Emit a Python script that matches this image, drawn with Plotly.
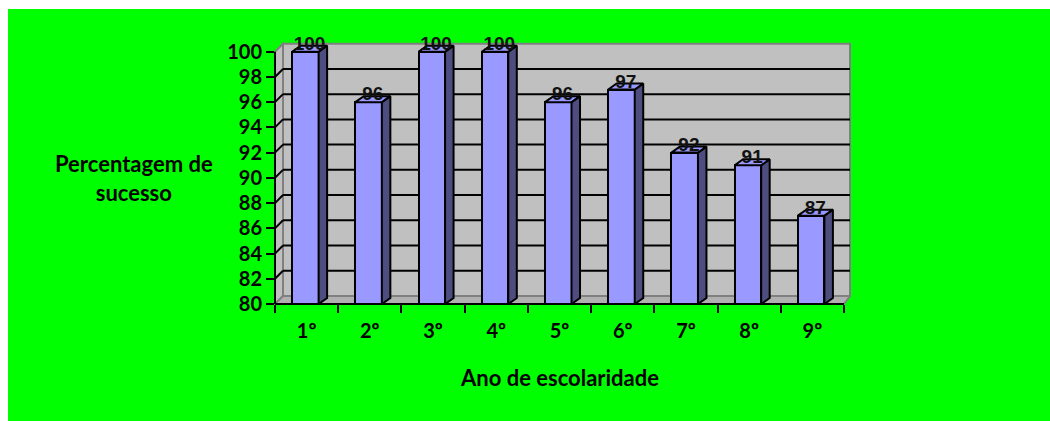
import plotly.graph_objects as go

# ---------------- data ----------------
categories = ["1º", "2º", "3º", "4º", "5º", "6º", "7º", "8º", "9º"]
values = [100, 96, 100, 100, 96, 97, 92, 91, 87]
y_ticks = [80, 82, 84, 86, 88, 90, 92, 94, 96, 98, 100]
y_title = "Percentagem de<br>sucesso"
x_title = "Ano de escolaridade"

# ---------------- geometry / style ----------------
FIG_W, FIG_H = 1050, 421
L, R, T, B = 275, 199, 42, 117
W = FIG_W - L - R
H = FIG_H - T - B
YMIN, YMAX = 80, 100
PX = 569 / 9.0          # pixels per category
PY = 252.3 / 20.0       # pixels per percentage unit
x_lo = -0.5
x_hi = x_lo + W / PX
y_hi = YMIN + H / PY
n = len(categories)
x_end = n - 0.5

WDXL = 8 / PX           # wall depth (left)
WDXR = 6 / PX           # wall depth (right)
WDY = 8 / PY
BAR_W = 0.42
BAR_OFF = -0.23
BDX = 8.5 / PX
BDY = 6 / PY

GREEN = "#00FF00"
WALL = "#C0C0C0"
WALL_EDGE = "#808080"
FLOOR = "#B0B0B0"
FRONT = "#9999FF"
SIDE = "#4D4D80"

def pxx(p):
    return (p - L) / W

def pxy(p):
    return (FIG_H - B - p) / H

xs = list(range(n))

fig = go.Figure()

# front faces
fig.add_trace(go.Bar(
    x=xs, y=values, width=BAR_W, offset=BAR_OFF,
    marker=dict(color=FRONT, line=dict(color="black", width=2)),
    hoverinfo="skip", showlegend=False,
))

# side faces and top faces (derived from the values)
side_x, side_y, top_x, top_y = [], [], [], []
for i, v in zip(xs, values):
    xl = i + BAR_OFF
    xr = xl + BAR_W
    side_x += [xr, xr + BDX, xr + BDX, xr, xr, None]
    side_y += [YMIN, YMIN + BDY, v + BDY, v, YMIN, None]
    top_x += [xl, xl + BDX, xr + BDX, xr, xl, None]
    top_y += [v, v + BDY, v + BDY, v, v, None]

fig.add_trace(go.Scatter(
    x=side_x, y=side_y, mode="lines", fill="toself", fillcolor=SIDE,
    line=dict(color="black", width=2), hoverinfo="skip", showlegend=False,
))
fig.add_trace(go.Scatter(
    x=top_x, y=top_y, mode="lines", fill="toself", fillcolor=FRONT,
    line=dict(color="black", width=2), hoverinfo="skip", showlegend=False,
))

# value labels
fig.add_trace(go.Scatter(
    x=[i + BAR_OFF + BAR_W / 2 + BDX / 2 for i in xs],
    y=[v + BDY / 2 + 3.5 / PY for v in values],
    mode="text", text=[f"<b>{v}</b>" for v in values], textposition="middle center",
    textfont=dict(family="Liberation Sans", size=19, color="#111111"),
    cliponaxis=False, hoverinfo="skip", showlegend=False,
))

shapes = []
# green background
shapes.append(dict(type="rect", xref="paper", yref="paper", layer="below",
                   x0=pxx(8), x1=pxx(FIG_W + 5), y0=pxy(FIG_H + 5), y1=pxy(9),
                   fillcolor=GREEN, line=dict(width=0)))
# back wall
shapes.append(dict(type="rect", xref="x", yref="y", layer="below",
                   x0=x_lo + WDXL, x1=x_end + WDXR, y0=YMIN + WDY, y1=YMAX + WDY,
                   fillcolor=WALL, line=dict(color=WALL_EDGE, width=2)))
# left wall
shapes.append(dict(type="path", xref="x", yref="y", layer="below",
                   path=f"M {x_lo},{YMIN} L {x_lo},{YMAX} L {x_lo + WDXL},{YMAX + WDY} "
                        f"L {x_lo + WDXL},{YMIN + WDY} Z",
                   fillcolor=WALL, line=dict(color=WALL_EDGE, width=2)))
# floor
shapes.append(dict(type="path", xref="x", yref="y", layer="below",
                   path=f"M {x_lo},{YMIN} L {x_lo + WDXL},{YMIN + WDY} L {x_end + WDXR},{YMIN + WDY} "
                        f"L {x_end},{YMIN} Z",
                   fillcolor=FLOOR, line=dict(color=WALL_EDGE, width=2)))
# gridlines on walls
for t in y_ticks[1:-1]:
    shapes.append(dict(type="line", xref="x", yref="y", layer="below",
                       x0=x_lo + WDXL, x1=x_end + WDXR, y0=t + WDY, y1=t + WDY,
                       line=dict(color="black", width=2)))
    shapes.append(dict(type="line", xref="x", yref="y", layer="below",
                       x0=x_lo, x1=x_lo + WDXL, y0=t, y1=t + WDY,
                       line=dict(color="black", width=2)))
# axis lines
shapes.append(dict(type="line", xref="paper", yref="paper", layer="above",
                   x0=0, x1=0, y0=0, y1=(YMAX - YMIN) / (y_hi - YMIN),
                   line=dict(color="black", width=2)))
shapes.append(dict(type="line", xref="paper", yref="paper", layer="above",
                   x0=0, x1=(x_end - x_lo) / (x_hi - x_lo), y0=0, y1=0,
                   line=dict(color="black", width=2)))

annotations = [
    dict(xref="paper", yref="paper", x=pxx(133.5), y=pxy(178), text=f"<b>{y_title}</b>",
         showarrow=False, xanchor="center", yanchor="middle", align="center",
         font=dict(family="Lato", size=22, color="black")),
    dict(xref="paper", yref="paper", x=pxx(559), y=pxy(377), text=f"<b>{x_title}</b>",
         showarrow=False, xanchor="center", yanchor="middle",
         font=dict(family="Lato", size=22, color="black")),
]

fig.update_layout(
    width=FIG_W, height=FIG_H,
    margin=dict(l=L, r=R, t=T, b=B, pad=0),
    paper_bgcolor="white", plot_bgcolor="rgba(0,0,0,0)",
    showlegend=False, shapes=shapes, annotations=annotations,
    bargap=0,
)
fig.update_xaxes(
    range=[x_lo, x_hi], showgrid=False, zeroline=False, showline=False,
    tickmode="array", tickvals=xs, ticktext=categories,
    ticks="outside", ticklen=9, tickcolor="rgba(0,0,0,0)",
    tickfont=dict(family="Lato", size=20, color="black", weight="bold"),
    minor=dict(tickmode="array", tickvals=[i - 0.5 for i in range(n + 1)],
               ticks="outside", ticklen=8, tickwidth=2, tickcolor="black", showgrid=False),
    fixedrange=True,
)
fig.update_yaxes(
    range=[YMIN, y_hi], showgrid=False, zeroline=False, showline=False,
    tickmode="array", tickvals=y_ticks, ticks="outside", ticklen=8, tickwidth=2,
    tickcolor="black",
    tickfont=dict(family="Lato", size=20, color="black", weight="bold"),
    fixedrange=True,
)

fig.write_html("out.html")
